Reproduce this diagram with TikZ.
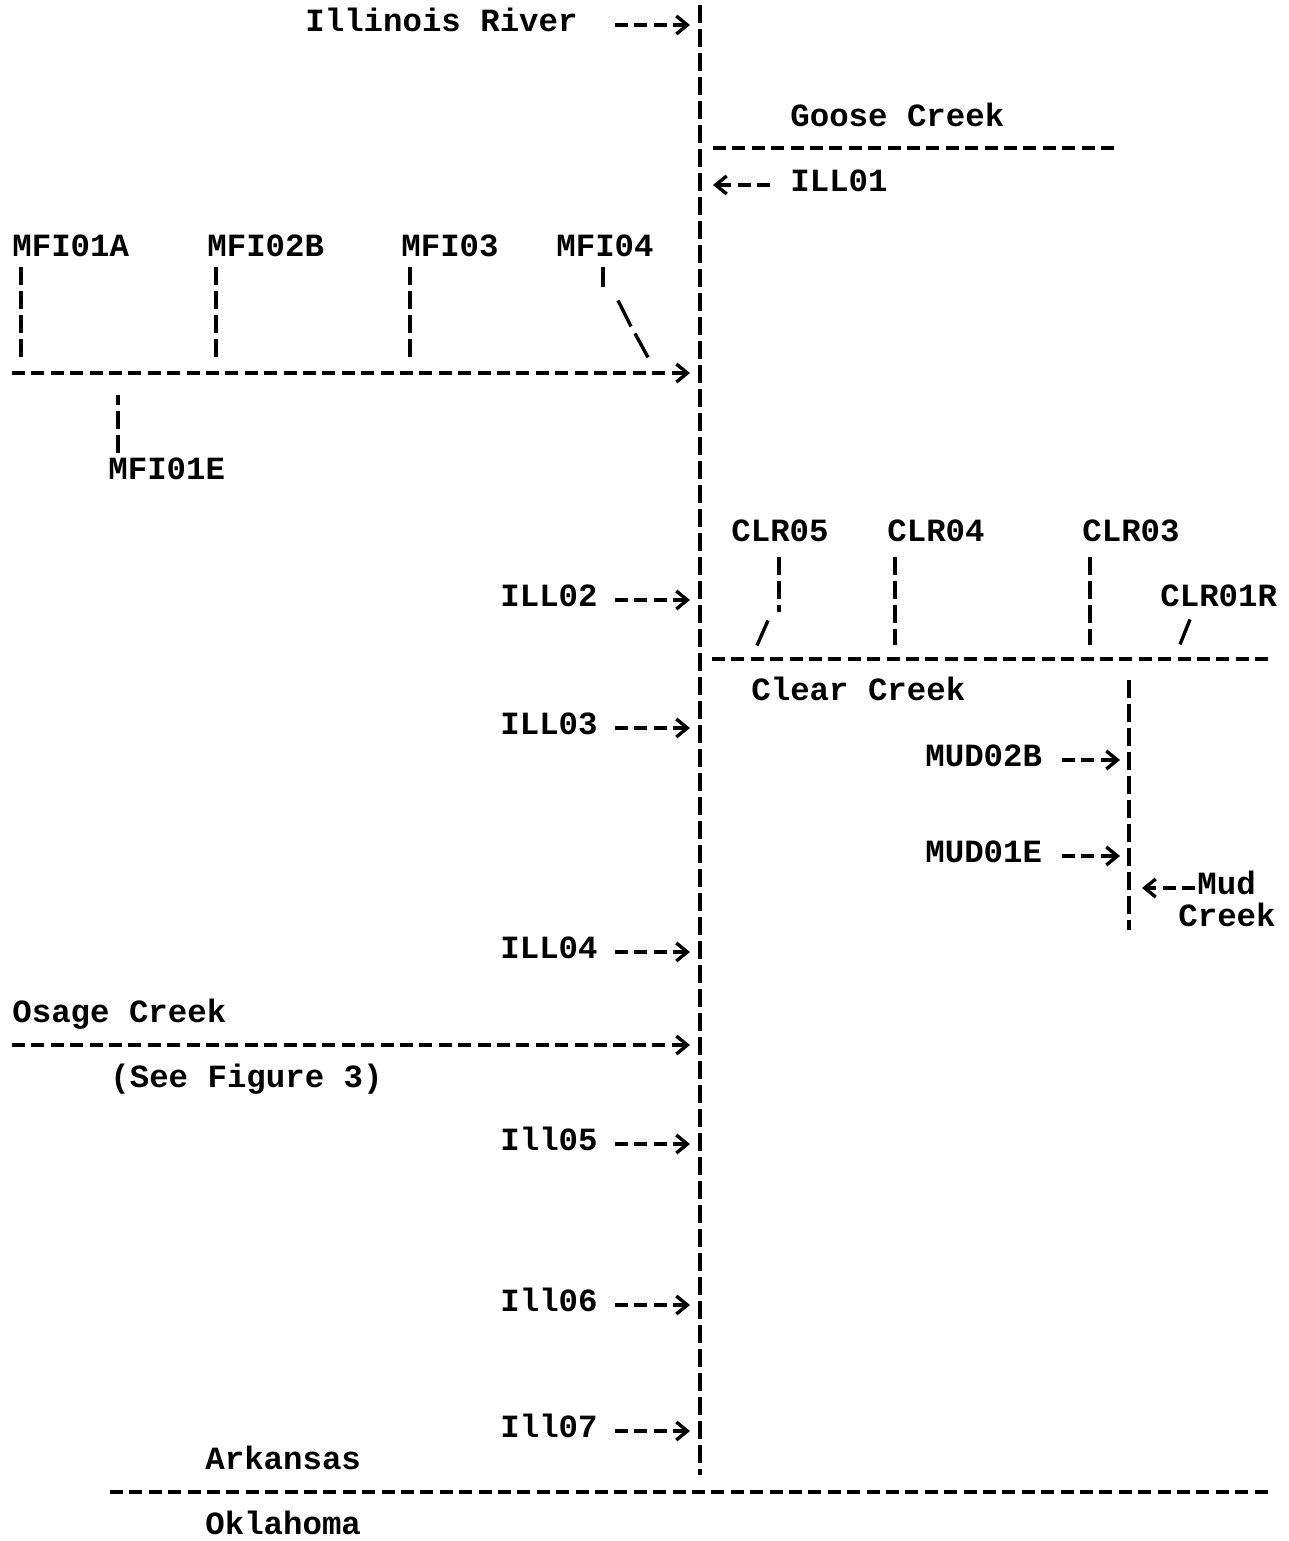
\documentclass[tikz,border=0pt]{standalone}
\usepackage{fontspec}
\setmonofont{Liberation Mono}
\usetikzlibrary{arrows.meta}
\begin{document}
\begin{tikzpicture}[x=0.5pt,y=-0.5pt,
  lbl/.style={anchor=west,inner sep=0pt,yshift=-1.5pt,font=\ttfamily\bfseries\fontsize{16.2}{18}\selectfont,text height=1.4ex,text depth=0pt},
  hdash/.style={line width=1.7pt,dash pattern=on 6.5pt off 3.2pt},
  vdash/.style={line width=1.7pt,dash pattern=on 9pt off 3pt},
  slash/.style={line width=1.7pt},
  harr/.style={hdash,-{Straight Barb[length=5.5pt,width=9pt]}},
]
\useasboundingbox (0,0) rectangle (1289,1541);
% labels
\node[lbl] (illriv) at (305,22) {Illinois River};
\node[lbl] (goose) at (790,117) {Goose Creek};
\node[lbl] (ill01) at (790,182) {ILL01};
\node[lbl] (mfi01a) at (12,247) {MFI01A};
\node[lbl] (mfi02b) at (207,247) {MFI02B};
\node[lbl] (mfi03) at (401,247) {MFI03};
\node[lbl] (mfi04) at (556,247) {MFI04};
\node[lbl] (mfi01e) at (108,470) {MFI01E};
\node[lbl] (clr05) at (731,532) {CLR05};
\node[lbl] (clr04) at (887,532) {CLR04};
\node[lbl] (clr03) at (1082,532) {CLR03};
\node[lbl] (clr01r) at (1160,597) {CLR01R};
\node[lbl] (ill02) at (500,597) {ILL02};
\node[lbl] (clear) at (751,691) {Clear Creek};
\node[lbl] (ill03) at (500,725) {ILL03};
\node[lbl] (mud02b) at (925,757) {MUD02B};
\node[lbl] (mud01e) at (925,853) {MUD01E};
\node[lbl] (muda) at (1197,885) {Mud};
\node[lbl] (mudb) at (1178,917) {Creek};
\node[lbl] (ill04) at (500,949) {ILL04};
\node[lbl] (osage) at (12,1013) {Osage Creek};
\node[lbl] (seefig) at (110,1078) {(See Figure 3)};
\node[lbl] (ill05) at (500,1141) {Ill05};
\node[lbl] (ill06) at (500,1302) {Ill06};
\node[lbl] (ill07) at (500,1428) {Ill07};
\node[lbl] (ark) at (205,1460) {Arkansas};
\node[lbl] (okl) at (205,1525) {Oklahoma};
% line end points
\coordinate (mtop) at (700,5);
\coordinate (mbot) at (700,1475);
\coordinate (gs) at (713,148);
\coordinate (ge) at (1117,148);
\coordinate (mfis) at (12,373);
\coordinate (clrs) at (712,659);
\coordinate (clre) at (1272,659);
\coordinate (muds) at (1129,680);
\coordinate (mude) at (1129,930);
\coordinate (osg) at (12,1045);
\coordinate (sts) at (110,1492);
\coordinate (ste) at (1272,1492);
% rivers
\draw[vdash] (mtop) -- (mbot);
\draw[hdash] (gs) -- (ge);
\draw[harr,shorten >=5pt] (mfis) -- (mfis -| mtop);
\draw[hdash] (clrs) -- (clre);
\draw[vdash] (muds) -- (mude);
\draw[harr,shorten >=5pt] (osg) -- (osg -| mtop);
\draw[hdash] (sts) -- (ste);
% tributary ticks
\draw[vdash] (mfi01a.south west) ++(9,11) -- ++(0,92);
\draw[vdash] (mfi02b.south west) ++(9,11) -- ++(0,92);
\draw[vdash] (mfi03.south west) ++(9,11) -- ++(0,92);
\draw[slash] (mfi04.south west) ++(47,11) -- ++(0,20);
\draw[slash] (mfi04.south west) ++(62,44) -- ++(13,26);
\draw[slash] (mfi04.south west) ++(79,77) -- ++(13,24);
\draw[vdash] (mfi01e.north west) ++(10,-14) -- ++(0,-58);
\draw[vdash] (clr05.south west) ++(48,16) -- ++(0,55);
\draw[slash] (clr05.south west) ++(37,79) -- ++(-11,25);
\draw[vdash] (clr04.south west) ++(8,16) -- ++(0,88);
\draw[vdash] (clr03.south west) ++(8,16) -- ++(0,88);
\draw[slash] (clr01r.south west) ++(30,13) -- ++(-10,25);
% arrows
\draw[harr,shorten >=5pt] (illriv.west) ++(310,0) -- (illriv.west -| mtop);
\draw[harr,shorten >=6.5pt] (ill01.west) ++(-20,0) -- (ill01.west -| mtop);
\draw[harr,shorten >=5pt] (ill02.west) ++(115,0) -- (ill02.west -| mtop);
\draw[harr,shorten >=5pt] (ill03.west) ++(115,0) -- (ill03.west -| mtop);
\draw[harr,shorten >=5pt] (ill04.west) ++(115,0) -- (ill04.west -| mtop);
\draw[harr,shorten >=5pt] (ill05.west) ++(115,0) -- (ill05.west -| mtop);
\draw[harr,shorten >=5pt] (ill06.west) ++(115,0) -- (ill06.west -| mtop);
\draw[harr,shorten >=5pt] (ill07.west) ++(115,0) -- (ill07.west -| mtop);
\draw[harr,shorten >=4.5pt] (mud02b.west) ++(137,0) -- (mud02b.west -| muds);
\draw[harr,shorten >=4.5pt] (mud01e.west) ++(137,0) -- (mud01e.west -| muds);
\draw[harr,shorten >=6.5pt] (muda.west) ++(-2,0) -- (muda.west -| muds);
\end{tikzpicture}
\end{document}
